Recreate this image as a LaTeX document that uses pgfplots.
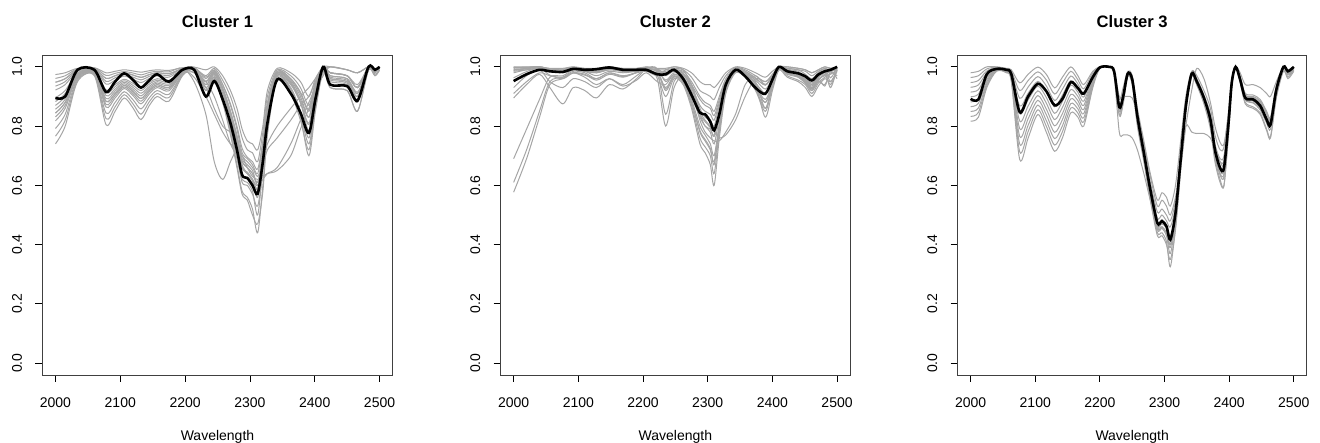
\documentclass[border=0pt]{standalone}
\usepackage{fontspec}
\setmainfont{Liberation Sans}
\usepackage{pgfplots}
\usepackage{pgfplotstable}
\pgfplotsset{compat=1.18}
\definecolor{curvegray}{RGB}{165,165,165}

\pgfplotstableread{
x b g1 g2 g3 g4 g5 g6 g7 g8 g9 g10 g11 g12 g13 g14 g15 g16 g17
2000 .895 .974 .948 .922 .896 .87 .844 .818 .792 .766 .74 .961 .883 .935 .831 .948 .844 .857
2015 .90 .98 .96 .94 .92 .90 .88 .86 .84 .82 .80 .97 .91 .95 .87 .96 .88 .89
2034 .99 .995 .99 .985 .98 .975 .97 .965 .96 .955 .95 .993 .978 .988 .968 .99 .97 .973
2060 .99 .997 .994 .991 .988 .985 .982 .979 .976 .973 .97 .996 .987 .993 .981 .994 .982 .984
2078 .915 .98 .961 .942 .922 .903 .883 .864 .844 .825 .805 .971 .912 .951 .873 .961 .884 .893
2092 .95 .985 .97 .955 .94 .925 .91 .895 .88 .865 .85 .978 .933 .963 .903 .97 .91 .918
2106 .978 .99 .979 .969 .958 .948 .937 .927 .916 .906 .895 .984 .953 .974 .932 .98 .938 .943
2120 .955 .986 .972 .958 .944 .93 .916 .902 .888 .874 .86 .979 .937 .965 .909 .972 .916 .923
2132 .93 .982 .964 .947 .929 .911 .893 .875 .858 .84 .822 .973 .92 .956 .884 .965 .893 .902
2145 .955 .987 .974 .961 .948 .935 .922 .909 .896 .883 .87 .981 .942 .968 .916 .974 .922 .929
2157 .975 .99 .98 .97 .96 .95 .94 .93 .92 .91 .90 .985 .955 .975 .935 .98 .94 .945
2175 .95 .988 .977 .965 .954 .942 .93 .919 .907 .896 .884 .983 .948 .971 .925 .977 .931 .937
2196 .99 .997 .994 .991 .988 .985 .982 .979 .976 .973 .97 .996 .987 .993 .981 .994 .982 .984
2214 .99 .999 .998 .997 .996 .995 .994 .993 .992 .98 .99 .95 .965 .98 .994 .998 .994 .989
2232 .90 .99 .96 .94 .92 .97 .95 .93 .95 .93 .90 .84 .90 .95 .92 .965 .95 .94
2245 .952 1.0 .99 .975 .965 .995 .98 .97 .985 .86 .96 .68 .84 .90 .965 .988 .983 .978
2258 .89 .97 .94 .91 .90 .955 .93 .89 .925 .80 .88 .62 .78 .82 .88 .94 .923 .92
2270 .81 .92 .87 .83 .80 .90 .85 .78 .85 .78 .79 .68 .74 .74 .77 .875 .84 .835
2280 .72 .86 .79 .74 .70 .83 .77 .67 .76 .76 .69 .72 .72 .70 .66 .80 .75 .745
2288 .635 .79 .71 .66 .61 .76 .69 .58 .68 .70 .62 .70 .68 .66 .57 .725 .67 .66
2296 .625 .75 .69 .64 .60 .72 .67 .56 .66 .68 .61 .66 .66 .64 .55 .695 .64 .645
2304 .60 .74 .67 .62 .57 .71 .65 .52 .64 .66 .58 .63 .64 .62 .50 .68 .615 .62
2312 .572 .72 .64 .59 .53 .68 .61 .44 .61 .63 .50 .62 .60 .60 .47 .655 .56 .585
2320 .68 .80 .74 .70 .65 .78 .72 .60 .72 .68 .66 .63 .62 .66 .58 .75 .69 .695
2327 .81 .92 .87 .84 .80 .90 .86 .78 .85 .74 .81 .64 .64 .72 .77 .88 .84 .835
2342 .957 .995 .985 .975 .97 .99 .98 .965 .98 .80 .97 .65 .66 .76 .96 .985 .978 .978
2363 .91 .98 .96 .94 .93 .97 .95 .92 .955 .86 .925 .70 .74 .82 .91 .96 .945 .945
2378 .845 .95 .91 .88 .85 .93 .89 .83 .90 .90 .84 .79 .82 .87 .82 .915 .88 .88
2391 .777 .90 .85 .81 .76 .87 .83 .70 .83 .93 .74 .86 .88 .90 .72 .855 .785 .805
2401 .89 .96 .94 .92 .88 .95 .93 .85 .93 .96 .87 .92 .93 .95 .86 .94 .90 .91
2413 1.0 1.0 1.0 .995 .99 1.0 1.0 .985 .995 .99 .985 .97 .98 .99 .99 .998 .993 .995
2424 .94 1.0 .98 .96 .95 .98 .93 .96 .97 .98 .93 1.0 .955 1.0 .98 .98 .97 .965
2450 .935 .99 .97 .95 .94 .97 .92 .95 .96 .97 .92 .99 .945 .99 .97 .97 .96 .955
2466 .886 .98 .93 .90 .88 .93 .85 .90 .91 .93 .85 .98 .89 .98 .93 .94 .915 .91
2483 1.0 1.0 1.0 .995 .99 1.0 .99 .995 1.0 1.0 .99 1.0 .995 1.0 1.0 .998 .998 1.0
2493 .99 .99 .99 .985 .98 .99 .97 .985 .99 .99 .97 .99 .975 .99 .99 .988 .988 .99
2500 1.0 1.0 1.0 1.0 .995 1.0 .99 1.0 1.0 1.0 .99 1.0 .99 1.0 1.0 1.0 1.0 1.0
}\tone

\pgfplotstableread{
x b h1 h2 h3 h4 h5 h6 h7 h8 h9 h10 h11 h12 h13 h14 h15 h16
2000 .952 1.0 .99 .995 .985 .93 .895 .91 .69 .61 .577 .998 .98 .99 .998 .988 .963
2020 .975 1.0 .995 .998 .99 .97 .94 .95 .79 .72 .69 .997 .99 .995 .999 .993 .984
2040 .99 1.0 1.0 1.0 .995 .99 .975 .98 .89 .85 .83 1.0 .995 .998 1.0 .998 .995
2056 .985 .995 .99 .993 .985 .95 .93 .97 .965 .95 .94 .99 .985 .99 .994 .988 .972
2076 .983 .995 .985 .99 .98 .93 .875 .965 .97 .965 .96 .99 .98 .985 .993 .983 .96
2092 .993 1.0 .995 .998 .99 .96 .93 .98 .99 .985 .98 .995 .99 .995 .999 .993 .979
2110 .99 .995 .99 .993 .985 .95 .92 .965 .985 .98 .975 .99 .985 .99 .994 .988 .972
2128 .992 .995 .985 .99 .98 .93 .895 .94 .97 .96 .955 .99 .98 .985 .993 .983 .96
2148 .998 1.0 .995 .998 .99 .96 .94 .96 .985 .98 .975 .995 .99 .995 .999 .993 .979
2169 .99 .995 .99 .993 .985 .94 .925 .935 .98 .97 .965 .99 .985 .99 .994 .988 .967
2190 .99 .995 .99 .993 .985 .97 .96 .955 .985 .98 .98 .99 .985 .99 .994 .988 .982
2205 .99 1.0 .995 .998 .99 .99 .99 .98 .99 .99 .985 .995 .99 .995 .999 .993 .994
2222 .975 .995 .99 .993 .985 .97 .96 .95 .98 .975 .97 .99 .985 .99 .994 .988 .982
2235 .975 .995 .98 .95 .93 .90 .80 .94 .985 .97 .99 .84 .92 .99 .973 .955 .925
2248 .99 1.0 .99 .975 .97 .96 .93 .975 .99 .985 1.0 .95 .965 .995 .988 .98 .968
2262 .96 .995 .985 .96 .95 .94 .97 .955 .98 .975 .99 .975 .945 .99 .978 .968 .95
2275 .905 .98 .95 .90 .88 .86 .93 .89 .92 .93 .94 .94 .87 .965 .94 .915 .88
2288 .845 .95 .90 .83 .78 .74 .84 .80 .82 .87 .85 .86 .76 .92 .89 .84 .785
2296 .84 .94 .88 .80 .75 .71 .80 .77 .78 .85 .82 .83 .73 .91 .87 .815 .755
2304 .815 .94 .87 .78 .72 .67 .79 .74 .76 .84 .80 .82 .70 .90 .86 .795 .725
2310 .786 .93 .85 .74 .68 .60 .77 .70 .75 .82 .78 .80 .64 .89 .835 .765 .67
2318 .84 .95 .90 .83 .80 .76 .85 .81 .75 .88 .76 .87 .78 .93 .89 .85 .795
2328 .94 .98 .96 .93 .92 .91 .94 .925 .78 .95 .77 .95 .915 .97 .955 .94 .92
2343 .99 1.0 .995 .99 .985 .98 .99 .99 .84 .99 .82 .99 .985 .998 .995 .99 .985
2358 .968 .995 .985 .975 .97 .965 .975 .975 .94 .98 .90 .98 .97 .99 .985 .978 .97
2374 .929 .98 .96 .945 .93 .92 .94 .935 .97 .955 .96 .95 .925 .97 .963 .945 .933
2389 .909 .965 .94 .91 .88 .85 .83 .89 .94 .925 .95 .86 .86 .95 .938 .91 .88
2400 .957 .985 .97 .95 .94 .93 .92 .945 .97 .96 .97 .94 .935 .975 .968 .955 .94
2410 1.0 1.0 1.0 .995 .995 .99 .99 .995 1.0 .995 1.0 .995 .99 1.0 .998 .998 .993
2423 .985 1.0 .98 .99 .975 .965 .995 .97 .985 .985 1.0 .99 .99 .995 .995 .978 .978
2440 .978 .995 .97 .985 .965 .95 .97 .955 .975 .975 .995 .98 .965 .99 .99 .968 .968
2451 .968 .99 .955 .96 .95 .93 .95 .94 .96 .955 .99 .965 .945 .985 .975 .953 .945
2461 .954 .98 .93 .94 .925 .90 .925 .91 .94 .935 .98 .945 .92 .97 .96 .928 .92
2471 .974 .99 .96 .97 .955 .935 .96 .945 .965 .965 .99 .97 .95 .985 .98 .958 .953
2481 .985 1.0 .97 .985 .975 .96 .935 .965 .98 .99 1.0 .985 .94 .995 .993 .973 .973
2490 .99 .995 .99 .93 .985 .95 .985 .975 .99 .95 .995 .99 .98 .99 .963 .988 .94
2500 1.0 1.0 .995 .995 .99 .985 .96 .99 1.0 .99 1.0 .995 .97 1.0 .998 .993 .99
}\ttwo

\pgfplotstableread{
x b k1 k2 k3 k4 k5 k6 k7 k8 k9 k10 k11
2000 .892 .98 .964 .947 .931 .915 .899 .882 .866 .850 .833 .817
2012 .89 .985 .970 .954 .939 .923 .908 .892 .877 .861 .846 .83
2025 .975 1.0 .993 .986 .979 .972 .965 .958 .951 .944 .937 .93
2040 .993 1.0 .999 .997 .996 .994 .993 .991 .990 .988 .987 .985
2055 .99 .995 .994 .992 .991 .989 .988 .986 .985 .983 .982 .98
2063 .975 .99 .986 .982 .978 .974 .97 .966 .962 .958 .954 .95
2076 .847 .946 .920 .894 .868 .842 .817 .791 .765 .739 .713 .687
2089 .90 .975 .954 .932 .911 .889 .868 .846 .825 .803 .782 .76
2104 .943 .999 .983 .967 .951 .935 .919 .903 .887 .871 .855 .839
2117 .918 .975 .956 .936 .917 .897 .878 .858 .839 .819 .80 .78
2130 .87 .929 .908 .886 .865 .843 .822 .801 .779 .758 .736 .715
2142 .892 .965 .945 .924 .904 .883 .863 .842 .822 .801 .781 .76
2155 .948 1.0 .985 .969 .954 .938 .923 .907 .892 .876 .861 .845
2166 .928 .97 .956 .942 .928 .914 .90 .886 .872 .858 .844 .83
2175 .91 .94 .926 .912 .898 .884 .87 .856 .842 .828 .814 .80
2189 .965 .985 .980 .974 .969 .963 .958 .952 .947 .941 .936 .93
2200 .998 1.0 1.0 .999 .999 .998 .998 .997 .997 .996 .996 .995
2214 1.0 1.0 1.0 1.0 1.0 1.0 1.0 1.0 1.0 1.0 1.0 1.0
2222 .985 .985 .99 .985 .985 .98 .985 .985 .98 .97 .982 .978
2230 .864 .875 .89 .86 .90 .85 .87 .865 .84 .78 .855 .835
2236 .90 .91 .93 .895 .90 .885 .905 .90 .88 .77 .89 .875
2243 .977 .98 .985 .975 .90 .97 .98 .978 .97 .77 .972 .968
2250 .958 .96 .97 .955 .895 .95 .955 .957 .945 .76 .952 .94
2258 .833 .845 .86 .83 .84 .82 .84 .835 .81 .72 .825 .80
2268 .71 .725 .75 .705 .74 .695 .715 .71 .69 .64 .70 .68
2278 .586 .61 .64 .58 .63 .57 .60 .59 .56 .55 .575 .55
2289 .473 .51 .55 .465 .53 .45 .49 .475 .44 .46 .455 .43
2296 .479 .52 .575 .47 .55 .455 .50 .485 .44 .46 .46 .43
2303 .462 .50 .56 .455 .53 .43 .48 .465 .41 .44 .44 .40
2309 .417 .48 .53 .40 .50 .37 .46 .43 .325 .40 .39 .35
2317 .507 .55 .60 .50 .56 .48 .53 .51 .46 .49 .49 .45
2325 .687 .71 .75 .68 .66 .67 .70 .69 .66 .66 .675 .65
2333 .867 .88 .90 .865 .80 .86 .875 .87 .855 .80 .862 .85
2342 .977 .98 .985 .975 .92 .975 .978 .977 .97 .78 .976 .968
2350 .95 .96 .97 .945 .995 .945 .955 .95 .94 .775 .947 .938
2361 .895 .905 .92 .89 .96 .885 .90 .895 .88 .775 .887 .875
2371 .822 .84 .86 .815 .88 .805 .83 .82 .80 .76 .81 .79
2378 .72 .74 .77 .71 .80 .70 .73 .715 .69 .72 .705 .68
2386 .659 .69 .72 .65 .745 .635 .68 .655 .62 .68 .64 .61
2392 .659 .70 .73 .65 .74 .63 .685 .66 .60 .67 .64 .60
2399 .81 .83 .85 .80 .84 .79 .82 .81 .78 .80 .795 .77
2404 .946 .95 .96 .94 .95 .94 .945 .945 .935 .94 .94 .93
2410 1.0 1.0 1.0 1.0 1.0 1.0 1.0 1.0 1.0 1.0 1.0 1.0
2417 .957 .98 .965 .96 .955 .958 .95 .962 .953 .955 .967 .948
2425 .895 .94 .905 .90 .89 .898 .88 .902 .888 .895 .91 .875
2437 .89 .94 .90 .895 .88 .89 .865 .897 .878 .885 .905 .86
2448 .869 .93 .885 .875 .86 .87 .845 .88 .855 .865 .89 .84
2458 .822 .91 .845 .83 .815 .825 .79 .84 .81 .82 .85 .785
2464 .805 .90 .825 .81 .80 .805 .765 .82 .79 .80 .83 .76
2473 .923 .95 .93 .925 .915 .92 .90 .928 .912 .918 .935 .895
2484 1.0 1.0 1.0 .995 1.0 .998 .99 1.0 .995 .997 1.0 .985
2491 .985 .99 .985 .98 .975 .978 .965 .983 .972 .977 .987 .96
2500 1.0 1.0 1.0 .995 .995 .995 .99 1.0 .99 .993 1.0 .985
}\tthree

\pgfplotsset{
  panel/.style={
    scale only axis, height=320pt, anchor=south west,
    xmin=1980, xmax=2520, ymin=-0.04, ymax=1.04,
    xtick={2000,2100,2200,2300,2400,2500},
    ytick={0,0.2,0.4,0.6,0.8,1.0},
    xtick pos=bottom, ytick pos=left,
    tick align=outside, major tick length=7pt,
    every tick/.style={black, line width=0.8pt},
    axis line style={black!75, line width=0.9pt},
    tick label style={font=\fontsize{14}{16}\selectfont},
    /pgf/number format/assume math mode=true,
    xticklabel style={/pgf/number format/1000 sep={}, yshift=-12pt},
    yticklabel style={/pgf/number format/fixed, /pgf/number format/precision=1,
      /pgf/number format/fixed zerofill, xshift=-10pt, rotate=90, anchor=south},
    title style={font=\fontsize{16.6}{19}\selectfont\bfseries, at={(axis description cs:0.5,1)}, anchor=base, yshift=21pt},
    xlabel={Wavelength},
    xlabel style={font=\fontsize{14}{16}\selectfont, at={(axis description cs:0.5,0)}, anchor=base, yshift=-66pt},
  },
  gcurve/.style={color=curvegray, line width=1pt, smooth, no markers},
  bcurve/.style={black, line width=2.6pt, smooth, no markers},
}

\begin{document}
\begin{tikzpicture}
\path[use as bounding box] (0pt,0pt) rectangle (1320pt,443pt);
\begin{axis}[panel, width=350pt, at={(42.5pt,68pt)}, title={Cluster 1}]
\pgfplotsinvokeforeach{1,...,17}{\addplot[gcurve] table[x=x,y=g#1]{\tone};}
\addplot[bcurve] table[x=x,y=b]{\tone};
\end{axis}
\begin{axis}[panel, width=349.3pt, at={(500.7pt,68pt)}, title={Cluster 2}]
\pgfplotsinvokeforeach{1,...,16}{\addplot[gcurve] table[x=x,y=h#1]{\ttwo};}
\addplot[bcurve] table[x=x,y=b]{\ttwo};
\end{axis}
\begin{axis}[panel, width=349pt, at={(957.7pt,68pt)}, title={Cluster 3}]
\pgfplotsinvokeforeach{1,...,11}{\addplot[gcurve] table[x=x,y=k#1]{\tthree};}
\addplot[bcurve] table[x=x,y=b]{\tthree};
\end{axis}
\end{tikzpicture}
\end{document}
